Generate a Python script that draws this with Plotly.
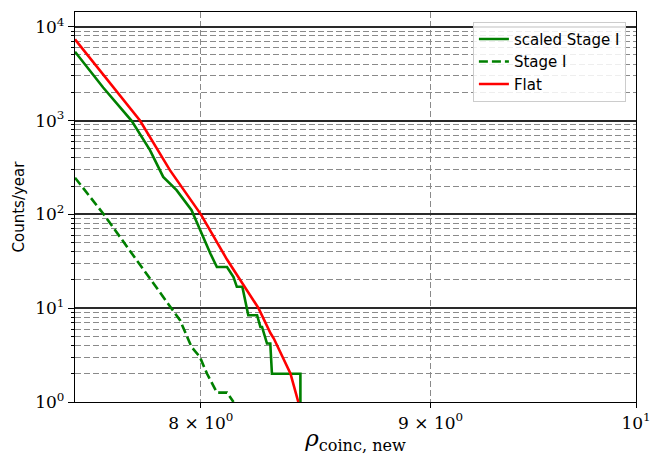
import math
import plotly.graph_objects as go

# ---- data ----
flat_x = [7.5, 7.626, 7.754, 7.874, 8.0, 8.108, 8.19, 8.24, 8.291, 8.305, 8.376, 8.41]
flat_y = [7340, 2735, 1000, 296, 100, 33, 15.5, 10, 5.4, 4.75, 2.02, 1.0]

scaled_x = [7.5, 7.609, 7.721, 7.794, 7.847, 7.901, 7.962, 7.996, 8.039, 8.066, 8.108,
            8.135, 8.149, 8.172, 8.197, 8.234, 8.248, 8.255, 8.276, 8.29, 8.297, 8.419, 8.419]
scaled_y = [5410, 2250, 994, 484, 251, 181, 111, 67.9, 38.3, 27.5, 27.5,
            21.5, 16.9, 16.9, 8.41, 8.41, 6.31, 6.31, 4.2, 4.2, 2.0, 2.0, 1.0]

stage1_x = [7.5, 7.609, 7.741, 7.874, 7.915, 7.962, 7.996, 8.025, 8.066, 8.108, 8.135]
stage1_y = [246, 102, 32.5, 10.3, 7.44, 3.86, 3.02, 2.01, 1.26, 1.26, 1.0]

x_ticks = [8, 9, 10]
x_ticktext = ['8 × 10<sup>0</sup>', '9 × 10<sup>0</sup>', '10<sup>1</sup>']
y_ticks = [1, 10, 100, 1000, 10000]
y_ticktext = ['10<sup>0</sup>', '10<sup>1</sup>', '10<sup>2</sup>', '10<sup>3</sup>', '10<sup>4</sup>']
y_minor = [k * 10 ** d for d in range(0, 5) for k in range(2, 10) if k * 10 ** d < 14000]

x_range = [math.log10(7.5), 1.0]
y_range = [0.0, 4.157]

fig = go.Figure()
fig.add_trace(go.Scatter(x=scaled_x, y=scaled_y, mode='lines', name='scaled Stage I',
                         line=dict(color='#008000', width=2.6)))
fig.add_trace(go.Scatter(x=stage1_x, y=stage1_y, mode='lines', name='Stage I',
                         line=dict(color='#008000', width=2.6, dash='9px,4px')))
fig.add_trace(go.Scatter(x=flat_x, y=flat_y, mode='lines', name='Flat',
                         line=dict(color='#ff0000', width=2.6)))

fig.update_layout(
    width=657, height=455,
    margin=dict(l=75, r=21, t=12, b=53),
    plot_bgcolor='white', paper_bgcolor='white',
    legend=dict(x=0.982, y=0.975, xanchor='right', yanchor='top',
                bordercolor='#cccccc', borderwidth=1, bgcolor='rgba(255,255,255,0.85)',
                font=dict(family='DejaVu Sans', size=15, color='black')),
)

fig.update_xaxes(
    type='log', range=x_range, automargin=False,
    tickmode='array', tickvals=x_ticks, ticktext=x_ticktext,
    ticks='outside', ticklen=5, tickcolor='black', tickwidth=1,
    showgrid=True, gridcolor='#8a8a8a', griddash='6px,3px', gridwidth=1,
    showline=True, linecolor='black', linewidth=1.3, mirror=True, zeroline=False,
    tickfont=dict(family='DejaVu Serif', size=17, color='black'),
    title=dict(text='<i>ρ</i><sub>coinc, new</sub>',
               font=dict(family='DejaVu Serif', size=23, color='black'), standoff=2),
)

fig.update_yaxes(
    type='log', range=y_range, automargin=False,
    tickmode='array', tickvals=y_ticks, ticktext=y_ticktext,
    ticks='outside', ticklen=6, tickcolor='black', tickwidth=1,
    showgrid=True, gridcolor='#2a2a2a', gridwidth=1.6,
    minor=dict(tickmode='array', tickvals=y_minor, ticks='outside', ticklen=3,
               tickcolor='black', showgrid=True, gridcolor='#8a8a8a',
               griddash='6px,3px', gridwidth=1),
    showline=True, linecolor='black', linewidth=1.3, mirror=True, zeroline=False,
    tickfont=dict(family='DejaVu Serif', size=17, color='black'),
    title=dict(text='Counts/year', font=dict(family='DejaVu Sans', size=15, color='black'),
               standoff=6),
)

fig.write_html("out.html")
